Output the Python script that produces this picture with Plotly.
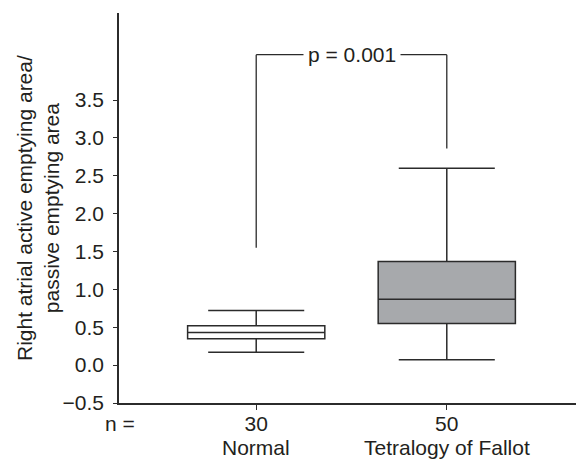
import plotly.graph_objects as go

# ---- data ----
groups = ["Normal", "Tetralogy of Fallot"]
n_values = ["30", "50"]
lower_whisker = [0.17, 0.07]
q1_values = [0.35, 0.55]
median_values = [0.43, 0.87]
q3_values = [0.52, 1.37]
upper_whisker = [0.72, 2.60]
fill_colors = ["#ffffff", "#a7a9ac"]

y_tick_values = [-0.5, 0.0, 0.5, 1.0, 1.5, 2.0, 2.5, 3.0, 3.5]

# significance bracket
bracket_left_bottom = 1.55
bracket_right_bottom = 2.86
bracket_top = 4.10
p_label = "p = 0.001"

line_col = "#2b2b2b"
text_col = "#231f20"
FONT = "Liberation Sans, Arial, sans-serif"
FS = 21

fig = go.Figure()
for i, g in enumerate(groups):
    fig.add_trace(go.Box(
        x=[i], q1=[q1_values[i]], median=[median_values[i]], q3=[q3_values[i]],
        lowerfence=[lower_whisker[i]], upperfence=[upper_whisker[i]],
        name=g, width=0.72, whiskerwidth=0.7, boxpoints=False,
        fillcolor=fill_colors[i], line=dict(color=line_col, width=1.5),
        showlegend=False, hoverinfo="skip",
    ))

# bracket
fig.add_shape(type="line", xref="x", yref="y", x0=0, x1=0,
              y0=bracket_left_bottom, y1=bracket_top,
              line=dict(color=line_col, width=1.3))
fig.add_shape(type="line", xref="x", yref="y", x0=0, x1=1,
              y0=bracket_top, y1=bracket_top,
              line=dict(color=line_col, width=1.3))
fig.add_shape(type="line", xref="x", yref="y", x0=1, x1=1,
              y0=bracket_right_bottom, y1=bracket_top,
              line=dict(color=line_col, width=1.3))
fig.add_annotation(x=0.5, y=bracket_top, xref="x", yref="y", text=p_label,
                   showarrow=False, bgcolor="white", borderpad=4,
                   font=dict(size=FS, color=text_col, family=FONT))

# group names under the n row
for i, g in enumerate(groups):
    fig.add_annotation(x=i, y=0, xref="x", yref="paper", text=g,
                       showarrow=False, yanchor="middle", yshift=-44,
                       font=dict(size=FS, color=text_col, family=FONT))

# "n =" label
fig.add_annotation(x=0, y=0, xref="paper", yref="paper", text="n =",
                   showarrow=False, xanchor="center", yanchor="middle",
                   xshift=1, yshift=-20,
                   font=dict(size=FS, color=text_col, family=FONT))

# y axis title
fig.add_annotation(x=0, y=0.5, xref="paper", yref="paper",
                   text="Right atrial active emptying area/<br>passive emptying area",
                   textangle=-90, showarrow=False, xanchor="center", yanchor="middle",
                   xshift=-81,
                   font=dict(size=FS, color=text_col, family=FONT))

# the page body has an 8px margin, so the figure is drawn 8px smaller
fig.update_layout(
    width=576, height=451,
    margin=dict(l=111, r=0, t=5, b=56),
    paper_bgcolor="white", plot_bgcolor="white",
    font=dict(family=FONT, size=FS, color=text_col),
    xaxis=dict(range=[-0.72, 1.72], tickvals=[0, 1], ticktext=n_values,
               showline=True, linecolor=line_col, linewidth=1.5,
               ticks="outside", ticklen=5, tickcolor=line_col, tickwidth=1.3,
               ticklabelstandoff=-4,
               showgrid=False, zeroline=False, fixedrange=True),
    yaxis=dict(range=[-0.5, 4.65], tickvals=y_tick_values,
               tickformat=".1f",
               showline=True, linecolor=line_col, linewidth=1.5,
               ticks="outside", ticklen=4, tickcolor=line_col, tickwidth=1.3,
               ticklabelstandoff=5,
               showgrid=False, zeroline=False, fixedrange=True),
)

fig.write_html("out.html")
